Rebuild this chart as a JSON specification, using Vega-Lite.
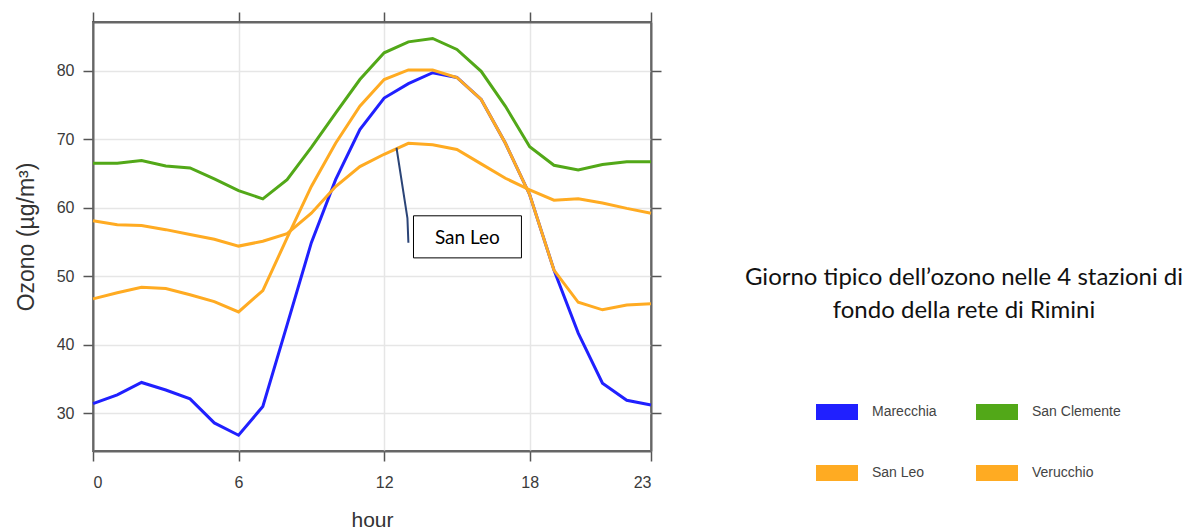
{
  "$schema": "https://vega.github.io/schema/vega-lite/v6.json",
  "width": 558,
  "height": 429,
  "autosize": {"type": "none"},
  "padding": {"left": 93, "top": 22, "right": 550, "bottom": 81},
  "background": "white",
  "config": {
    "view": {"stroke": "#666", "strokeWidth": 2},
    "axis": {"labelFont": "Liberation Sans", "titleFont": "Liberation Sans", "titleFontWeight": "normal"}
  },
  "datasets": {
    "ozone": [
      {"hour":0,"station":"Marecchia","ozone":31.4},{"hour":1,"station":"Marecchia","ozone":32.7},{"hour":2,"station":"Marecchia","ozone":34.5},{"hour":3,"station":"Marecchia","ozone":33.4},{"hour":4,"station":"Marecchia","ozone":32.1},{"hour":5,"station":"Marecchia","ozone":28.6},{"hour":6,"station":"Marecchia","ozone":26.8},{"hour":7,"station":"Marecchia","ozone":31.0},{"hour":8,"station":"Marecchia","ozone":42.9},{"hour":9,"station":"Marecchia","ozone":54.9},{"hour":10,"station":"Marecchia","ozone":64.1},{"hour":11,"station":"Marecchia","ozone":71.4},{"hour":12,"station":"Marecchia","ozone":76.0},{"hour":13,"station":"Marecchia","ozone":78.1},{"hour":14,"station":"Marecchia","ozone":79.7},{"hour":15,"station":"Marecchia","ozone":79.0},{"hour":16,"station":"Marecchia","ozone":75.8},{"hour":17,"station":"Marecchia","ozone":69.4},{"hour":18,"station":"Marecchia","ozone":61.9},{"hour":19,"station":"Marecchia","ozone":50.9},{"hour":20,"station":"Marecchia","ozone":41.7},{"hour":21,"station":"Marecchia","ozone":34.4},{"hour":22,"station":"Marecchia","ozone":31.9},{"hour":23,"station":"Marecchia","ozone":31.2},
      {"hour":0,"station":"San Clemente","ozone":66.5},{"hour":1,"station":"San Clemente","ozone":66.5},{"hour":2,"station":"San Clemente","ozone":66.9},{"hour":3,"station":"San Clemente","ozone":66.1},{"hour":4,"station":"San Clemente","ozone":65.8},{"hour":5,"station":"San Clemente","ozone":64.2},{"hour":6,"station":"San Clemente","ozone":62.5},{"hour":7,"station":"San Clemente","ozone":61.3},{"hour":8,"station":"San Clemente","ozone":64.1},{"hour":9,"station":"San Clemente","ozone":68.8},{"hour":10,"station":"San Clemente","ozone":73.8},{"hour":11,"station":"San Clemente","ozone":78.7},{"hour":12,"station":"San Clemente","ozone":82.6},{"hour":13,"station":"San Clemente","ozone":84.2},{"hour":14,"station":"San Clemente","ozone":84.7},{"hour":15,"station":"San Clemente","ozone":83.1},{"hour":16,"station":"San Clemente","ozone":79.9},{"hour":17,"station":"San Clemente","ozone":74.8},{"hour":18,"station":"San Clemente","ozone":68.9},{"hour":19,"station":"San Clemente","ozone":66.2},{"hour":20,"station":"San Clemente","ozone":65.5},{"hour":21,"station":"San Clemente","ozone":66.3},{"hour":22,"station":"San Clemente","ozone":66.7},{"hour":23,"station":"San Clemente","ozone":66.7},
      {"hour":0,"station":"San Leo","ozone":58.1},{"hour":1,"station":"San Leo","ozone":57.5},{"hour":2,"station":"San Leo","ozone":57.4},{"hour":3,"station":"San Leo","ozone":56.8},{"hour":4,"station":"San Leo","ozone":56.1},{"hour":5,"station":"San Leo","ozone":55.4},{"hour":6,"station":"San Leo","ozone":54.4},{"hour":7,"station":"San Leo","ozone":55.1},{"hour":8,"station":"San Leo","ozone":56.2},{"hour":9,"station":"San Leo","ozone":59.2},{"hour":10,"station":"San Leo","ozone":63.1},{"hour":11,"station":"San Leo","ozone":66.0},{"hour":12,"station":"San Leo","ozone":67.8},{"hour":13,"station":"San Leo","ozone":69.4},{"hour":14,"station":"San Leo","ozone":69.2},{"hour":15,"station":"San Leo","ozone":68.5},{"hour":16,"station":"San Leo","ozone":66.4},{"hour":17,"station":"San Leo","ozone":64.3},{"hour":18,"station":"San Leo","ozone":62.6},{"hour":19,"station":"San Leo","ozone":61.1},{"hour":20,"station":"San Leo","ozone":61.3},{"hour":21,"station":"San Leo","ozone":60.7},{"hour":22,"station":"San Leo","ozone":59.9},{"hour":23,"station":"San Leo","ozone":59.2},
      {"hour":0,"station":"Verucchio","ozone":46.7},{"hour":1,"station":"Verucchio","ozone":47.6},{"hour":2,"station":"Verucchio","ozone":48.4},{"hour":3,"station":"Verucchio","ozone":48.2},{"hour":4,"station":"Verucchio","ozone":47.3},{"hour":5,"station":"Verucchio","ozone":46.3},{"hour":6,"station":"Verucchio","ozone":44.8},{"hour":7,"station":"Verucchio","ozone":47.9},{"hour":8,"station":"Verucchio","ozone":55.6},{"hour":9,"station":"Verucchio","ozone":63.1},{"hour":10,"station":"Verucchio","ozone":69.4},{"hour":11,"station":"Verucchio","ozone":74.8},{"hour":12,"station":"Verucchio","ozone":78.7},{"hour":13,"station":"Verucchio","ozone":80.1},{"hour":14,"station":"Verucchio","ozone":80.1},{"hour":15,"station":"Verucchio","ozone":79.0},{"hour":16,"station":"Verucchio","ozone":75.8},{"hour":17,"station":"Verucchio","ozone":69.4},{"hour":18,"station":"Verucchio","ozone":61.9},{"hour":19,"station":"Verucchio","ozone":50.9},{"hour":20,"station":"Verucchio","ozone":46.2},{"hour":21,"station":"Verucchio","ozone":45.1},{"hour":22,"station":"Verucchio","ozone":45.8},{"hour":23,"station":"Verucchio","ozone":46.0}
    ],
    "leader": [
      {"hour":12.51,"ozone":68.75,"step":1},
      {"hour":12.96,"ozone":58.5,"step":2},
      {"hour":13.0,"ozone":54.9,"step":3}
    ],
    "box": [
      {"x1":13.21,"x2":17.66,"y1":58.82,"y2":52.68,"label":"San Leo","xc":15.43,"yc":55.6}
    ]
  },
  "resolve": {"axis": {"x": "independent", "y": "independent"}},
  "layer": [
    {
      "data": {"name": "ozone"},
      "mark": {"type": "line", "strokeWidth": 3},
      "encoding": {
        "x": {
          "field": "hour", "type": "quantitative",
          "scale": {"domain": [0, 23], "nice": false, "zero": false},
          "axis": {
            "orient": "bottom", "values": [0, 6, 12, 18, 23], "title": "hour",
            "grid": true, "gridColor": "#e6e6e6", "gridWidth": 1.5,
            "domainColor": "#666", "domainWidth": 2,
            "tickColor": "#555", "tickSize": 10, "tickWidth": 1.5,
            "labelFontSize": 16, "labelColor": "#3a3a3a", "labelPadding": 13,
            "titleFontSize": 21, "titleColor": "#333", "titlePadding": 19
          }
        },
        "y": {
          "field": "ozone", "type": "quantitative",
          "scale": {"domain": [24.5, 87.1], "nice": false, "zero": false},
          "axis": {
            "orient": "left", "values": [30, 40, 50, 60, 70, 80], "title": "Ozono (µg/m³)",
            "grid": true, "gridColor": "#e6e6e6", "gridWidth": 1.5,
            "domainColor": "#666", "domainWidth": 2,
            "tickColor": "#555", "tickSize": 10, "tickWidth": 1.5,
            "labelFontSize": 16, "labelColor": "#3a3a3a", "labelPadding": 9,
            "titleFontSize": 23, "titleColor": "#333", "titlePadding": 18
          }
        },
        "color": {
          "field": "station", "type": "nominal",
          "scale": {
            "domain": ["Marecchia", "San Clemente", "San Leo", "Verucchio"],
            "range": ["#2020ff", "#52a818", "#ffab22", "#ffab22"]
          },
          "legend": {
            "orient": "none", "legendX": 652, "legendY": 244,
            "columns": 2, "direction": "horizontal",
            "title": ["Giorno tipico dell’ozono nelle 4 stazioni di", "fondo della rete di Rimini"],
            "titleFont": "Lato", "titleFontSize": 24, "titleFontWeight": "normal",
            "titleColor": "#111", "titleAnchor": "middle", "titleAlign": "center",
            "titleLimit": 700, "titlePadding": 60, "titleLineHeight": 33,
            "symbolType": "stroke", "symbolStrokeWidth": 16, "symbolSize": 1764,
            "symbolOpacity": 1,
            "labelFont": "Liberation Sans", "labelFontSize": 14, "labelColor": "#444",
            "labelOffset": 6, "columnPadding": 7, "rowPadding": -19
          }
        }
      }
    },
    {
      "data": {"name": "leader"},
      "mark": {"type": "line", "color": "#2b4477", "strokeWidth": 2},
      "encoding": {
        "x": {"field": "hour", "type": "quantitative", "axis": null},
        "y": {"field": "ozone", "type": "quantitative", "axis": null},
        "order": {"field": "step", "type": "quantitative"}
      }
    },
    {
      "data": {"name": "box"},
      "mark": {"type": "rect", "fill": "white", "stroke": "black", "strokeWidth": 1},
      "encoding": {
        "x": {
          "field": "x1", "type": "quantitative",
          "axis": {
            "orient": "top", "values": [0, 6, 12, 18, 23], "labels": false, "title": null,
            "grid": false, "domainColor": "#666", "domainWidth": 2,
            "tickColor": "#555", "tickSize": 10, "tickWidth": 1.5
          }
        },
        "x2": {"field": "x2"},
        "y": {
          "field": "y1", "type": "quantitative",
          "axis": {
            "orient": "right", "values": [30, 40, 50, 60, 70, 80], "labels": false, "title": null,
            "grid": false, "domainColor": "#666", "domainWidth": 2,
            "tickColor": "#555", "tickSize": 10, "tickWidth": 1.5
          }
        },
        "y2": {"field": "y2"}
      }
    },
    {
      "data": {"name": "box"},
      "mark": {"type": "text", "font": "Lato", "fontSize": 19, "color": "black", "align": "center", "baseline": "middle"},
      "encoding": {
        "x": {"field": "xc", "type": "quantitative", "axis": null},
        "y": {"field": "yc", "type": "quantitative", "axis": null},
        "text": {"field": "label"}
      }
    }
  ]
}
